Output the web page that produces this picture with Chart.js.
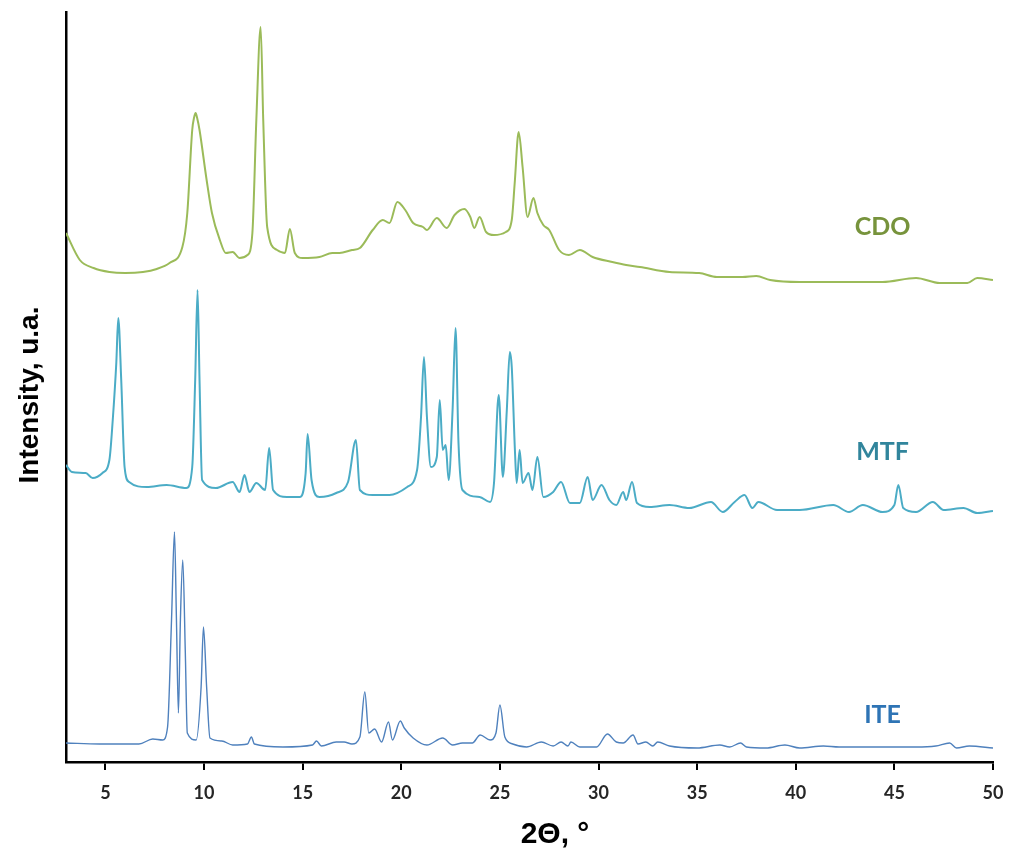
<!DOCTYPE html>
<html>
<head>
<meta charset="utf-8">
<title>XRD patterns</title>
<script src="https://cdn.jsdelivr.net/npm/chart.js@4"></script>
<style>
  body { margin: 0; background: #fff; }
  .chart-container { width: 1011px; height: 856px; }
</style>
</head>
<body>
<div class="chart-container">
  <canvas id="xrdChart" width="1011" height="856"></canvas>
</div>
<script>
// 2theta (deg) and intensity (a.u., stacked offsets as in the figure)
const cdoTheta = [3.0, 3.7, 4.4, 5.2, 6.0, 6.9, 7.6, 8.25, 8.9, 9.15, 9.4, 9.5, 9.57, 9.65, 9.77, 10.13, 10.4, 10.8, 11.1, 11.45, 11.8, 12.2, 12.45, 12.65, 12.87, 13.0, 13.2, 13.7, 14.1, 14.35, 14.6, 15.0, 15.85, 16.5, 16.87, 17.5, 17.9, 18.55, 19.06, 19.4, 19.8, 20.2, 20.6, 21.1, 21.3, 21.8, 22.3, 22.7, 23.2, 23.5, 23.7, 23.97, 24.3, 24.7, 25.3, 25.6, 25.75, 25.95, 26.15, 26.4, 26.7, 26.9, 27.2, 27.5, 28.0, 28.5, 29.05, 29.7, 30.7, 31.4, 32.1, 33.6, 35.1, 36.0, 37.3, 38.0, 38.7, 40.2, 41.9, 44.4, 46.1, 47.3, 48.7, 49.2, 50.0];
const cdoIntensity = [529, 502, 494, 490, 489, 490, 493, 499, 515, 549, 632, 645, 649, 644, 632, 582, 549, 522, 509, 510, 504, 507, 529, 642, 735, 642, 535, 512, 509, 533, 509, 504, 505, 509, 509, 512, 514, 532, 542, 539, 560, 552, 539, 535, 532, 544, 534, 547, 553, 545, 534, 545, 530, 527, 530, 542, 579, 630, 595, 545, 564, 549, 537, 532, 512, 507, 512, 505, 500, 497, 495, 490, 489, 485, 485, 486, 482, 480, 480, 480, 484, 479, 479, 484, 482];

const mtfTheta = [3.0, 3.3, 4.0, 4.35, 4.85, 5.2, 5.37, 5.55, 5.65, 5.8, 5.97, 6.2, 7.1, 8.1, 9.1, 9.4, 9.55, 9.67, 9.77, 9.9, 10.6, 11.45, 11.8, 12.05, 12.3, 12.65, 13.1, 13.3, 13.5, 14.2, 14.85, 15.15, 15.25, 15.45, 15.85, 16.7, 17.3, 17.7, 17.9, 18.55, 19.4, 20.3, 20.8, 21.0, 21.15, 21.3, 21.5, 21.8, 21.95, 22.1, 22.25, 22.4, 22.6, 22.75, 22.9, 23.1, 23.97, 24.5, 24.7, 24.94, 25.15, 25.35, 25.5, 25.6, 25.76, 25.85, 26.0, 26.15, 26.45, 26.65, 26.9, 27.2, 27.7, 28.1, 28.55, 29.05, 29.45, 29.7, 30.15, 30.55, 30.9, 31.25, 31.4, 31.7, 31.95, 32.6, 33.6, 34.6, 35.7, 36.3, 36.9, 37.4, 37.8, 38.1, 39.05, 40.2, 41.9, 42.7, 43.4, 44.4, 45.0, 45.2, 45.45, 46.1, 46.95, 47.5, 48.5, 49.2, 50.0];
const mtfIntensity = [297, 290, 289, 284, 289, 302, 342, 399, 444, 382, 295, 280, 275, 277, 274, 295, 382, 472, 382, 282, 274, 280, 270, 287, 270, 279, 272, 314, 272, 265, 265, 289, 328, 282, 265, 269, 280, 322, 272, 267, 267, 275, 292, 345, 405, 345, 295, 305, 362, 312, 317, 282, 352, 434, 319, 272, 265, 260, 279, 367, 285, 352, 410, 395, 312, 279, 312, 279, 289, 272, 305, 265, 270, 280, 259, 259, 285, 262, 277, 262, 257, 270, 262, 280, 259, 255, 257, 254, 260, 250, 260, 267, 254, 260, 252, 252, 257, 250, 257, 250, 257, 277, 254, 250, 260, 252, 254, 249, 251];

const iteTheta = [3.0, 4.7, 6.7, 7.4, 7.9, 8.15, 8.35, 8.5, 8.6, 8.7, 8.8, 8.92, 9.05, 9.15, 9.6, 9.85, 9.97, 10.13, 10.3, 10.9, 11.45, 12.2, 12.4, 12.55, 14.0, 15.5, 15.7, 15.95, 16.7, 17.1, 17.5, 17.9, 18.15, 18.35, 18.65, 19.0, 19.35, 19.55, 19.95, 20.15, 20.6, 21.3, 22.1, 22.6, 23.1, 23.6, 24.0, 24.5, 24.8, 25.0, 25.25, 25.65, 26.35, 27.1, 27.7, 28.1, 28.45, 28.6, 29.05, 29.9, 30.45, 30.9, 31.25, 31.75, 32.0, 32.4, 32.75, 33.0, 33.6, 35.0, 36.15, 36.65, 37.2, 37.5, 38.5, 39.45, 40.2, 41.4, 42.2, 44.4, 46.1, 47.1, 47.8, 48.15, 48.8, 50.0];
const iteIntensity = [19, 18, 18, 23, 22, 35, 142, 230, 142, 49, 142, 202, 109, 29, 22, 75, 135, 75, 24, 21, 17, 18, 25, 18, 15, 17, 21, 16, 20, 20, 18, 25, 70, 29, 33, 20, 40, 22, 41, 34, 24, 17, 24, 17, 19, 19, 27, 22, 29, 57, 25, 18, 15, 20, 16, 20, 16, 20, 15, 15, 28, 20, 19, 27, 18, 20, 16, 20, 16, 14, 17, 15, 19, 15, 14, 17, 14, 16, 15, 15, 15, 16, 19, 14, 16, 14];

const xTickValues = [5, 10, 15, 20, 25, 30, 35, 40, 45, 50];

const seriesNames = ['CDO', 'MTF', 'ITE'];
const seriesLabelAt = [[44.4, 535], [44.4, 310], [44.4, 47]];

function toPoints(xs, ys) {
    return xs.map((x, i) => ({ x: x, y: ys[i] }));
}

const seriesLabels = {
    id: 'seriesLabels',
    afterDraw(chart) {
        const ctx = chart.ctx;
        const xs = chart.scales.x;
        const ys = chart.scales.y;
        const colors = ['#77933C', '#31859C', '#2E74B5'];
        ctx.save();
        ctx.font = 'bold 25px Lato';
        ctx.textAlign = 'center';
        ctx.textBaseline = 'middle';
        seriesNames.forEach((name, i) => {
            ctx.fillStyle = colors[i];
            ctx.fillText(name, xs.getPixelForValue(seriesLabelAt[i][0]), ys.getPixelForValue(seriesLabelAt[i][1]));
        });

        // axis titles
        ctx.fillStyle = '#000';
        ctx.font = 'bold 30px "Liberation Sans"';
        ctx.fillText('2\u0398, \u00b0', 555, 835);

        ctx.translate(30, 395);
        ctx.rotate(-Math.PI / 2);
        ctx.font = 'bold 28px "Liberation Sans"';
        ctx.fillText('Intensity, u.a.', 0, 0);
        ctx.restore();
    }
};

const ctx = document.getElementById('xrdChart').getContext('2d');
const xrdChart = new Chart(ctx, {
    type: 'line',
    data: {
        datasets: [
            {
                label: 'CDO',
                data: toPoints(cdoTheta, cdoIntensity),
                borderColor: '#9BBB59',
                borderWidth: 2,
                pointRadius: 0,
                cubicInterpolationMode: 'monotone',
                fill: false
            },
            {
                label: 'MTF',
                data: toPoints(mtfTheta, mtfIntensity),
                borderColor: '#4BACC6',
                borderWidth: 2,
                pointRadius: 0,
                cubicInterpolationMode: 'monotone',
                fill: false
            },
            {
                label: 'ITE',
                data: toPoints(iteTheta, iteIntensity),
                borderColor: '#4F81BD',
                borderWidth: 1.4,
                pointRadius: 0,
                cubicInterpolationMode: 'monotone',
                fill: false
            }
        ]
    },
    options: {
        responsive: false,
        animation: false,
        layout: { padding: { left: 66, top: 12, right: 18, bottom: 0 } },
        plugins: {
            legend: { display: false },
            tooltip: { enabled: false }
        },
        scales: {
            x: {
                type: 'linear',
                min: 3,
                max: 50,
                afterBuildTicks: (scale) => {
                    scale.ticks = xTickValues.map(v => ({ value: v }));
                },
                afterFit: (scale) => {
                    scale.height = 94;
                    scale.paddingLeft = 0;
                    scale.paddingRight = 0;
                },
                ticks: {
                    autoSkip: false,
                    maxRotation: 0,
                    padding: 12,
                    color: '#262626',
                    font: { family: 'Lato', weight: 'bold', size: 18 }
                },
                grid: {
                    drawOnChartArea: false,
                    drawTicks: true,
                    tickLength: 8,
                    color: '#000',
                    lineWidth: 2
                },
                border: { color: '#000', width: 2.5 }
            },
            y: {
                min: 0,
                max: 750,
                afterFit: (scale) => { scale.width = 0; },
                ticks: { display: false },
                grid: { drawOnChartArea: false, drawTicks: false },
                border: { color: '#000', width: 2.5 }
            }
        }
    },
    plugins: [seriesLabels]
});
</script>
</body>
</html>
